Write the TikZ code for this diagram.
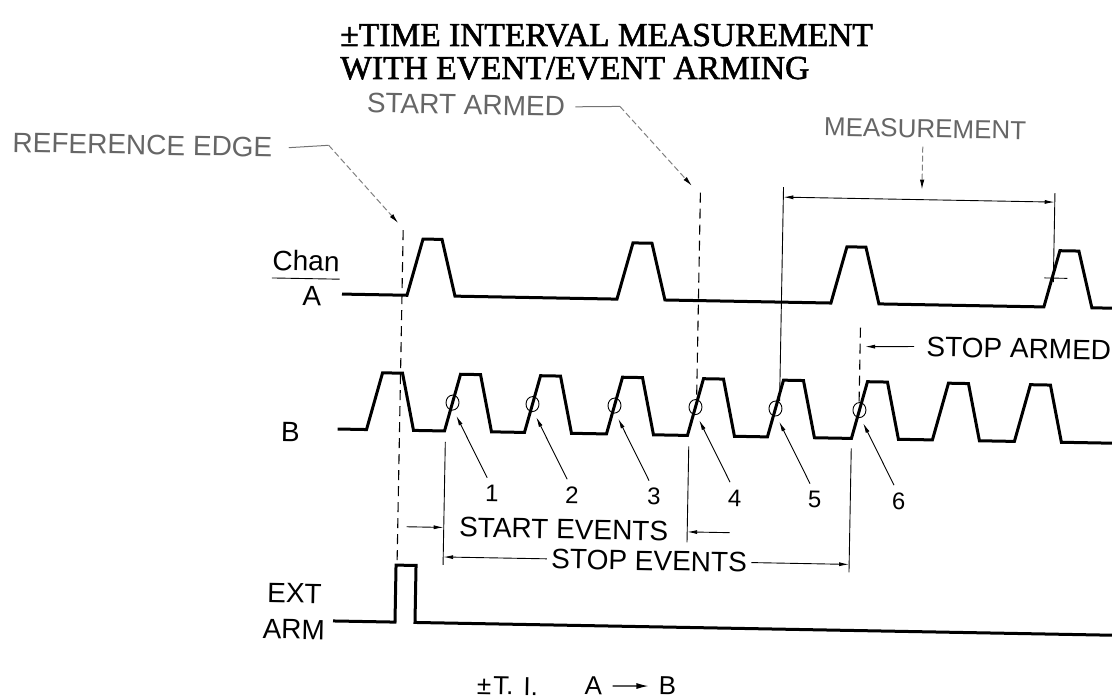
\documentclass[tikz,border=0pt]{standalone}
\usepackage{fontspec}
\setmainfont{Liberation Serif}
\newfontfamily\titlefont[FakeBold=1.8]{Liberation Serif}
\newfontfamily\lab{Liberation Sans}
\usetikzlibrary{arrows.meta,calc,shapes.geometric}
\begin{document}
\begin{tikzpicture}[x=0.5pt,y=-0.5pt,
  wave/.style={line width=1.5pt, line join=miter, line cap=butt},
  thinln/.style={line width=0.45pt},
  dashln/.style={line width=0.55pt, dash pattern=on 5pt off 3pt},
  ptr/.style={line width=0.45pt, -{Latex[length=5pt,width=2pt]}},
  faint/.style={line width=0.5pt, black!50, dash pattern=on 3pt off 1.5pt, -{Latex[length=5pt,width=2.2pt,color=black]}},
  gsolid/.style={line width=0.5pt, black!55},
  title/.style={font=\titlefont\fontsize{16.75}{20}\selectfont, inner sep=0pt},
  lbl/.style={font=\lab\fontsize{14}{18}\selectfont, inner sep=0pt},
  glbl/.style={lbl, text=black!60},
  num/.style={font=\lab\fontsize{12}{14}\selectfont, inner sep=0pt},
  circ/.style={draw, ellipse, line width=0.45pt, minimum width=6.5pt, minimum height=7.5pt, inner sep=0pt},
]
\useasboundingbox (0,0) rectangle (1112,700);
% title
\node[title, anchor=base west] (t1) at (340,46) {±TIME INTERVAL MEASUREMENT};
\node[title, anchor=base west] (t2) at (340,79) {WITH EVENT/EVENT ARMING};
\begin{scope}[rotate around={-1.05:(556,350)}, transform shape]
% reference edge
\node[glbl] (re) at (138.8,152.6) {REFERENCE EDGE};
\coordinate (reD) at (325,149.5);
\coordinate (reT) at (396,226);
\draw[gsolid] ([xshift=8pt]re.east) -- (reD);
\draw[faint] (reD) -- (reT);
\draw[dashln] (401,233) -- (401,566);

% start armed
\node[glbl] (sa) at (461.5,106.5) {START ARMED};
\coordinate (saD) at (615.5,105.3);
\coordinate (saT) at (689,183.5);
\draw[gsolid] ([xshift=5pt]sa.east) -- (saD);
\draw[faint] (saD) -- (saT);
\draw[dashln] (697.5,190) -- (697.5,400);

% measurement
\node[glbl, font=\lab\fontsize{13}{16}\selectfont] (ms) at (921,122) {MEASUREMENT};
\coordinate (msT) at (919,183);
\draw[faint] (919,140) -- (msT);
\coordinate (mL) at (780.5,193);
\coordinate (mR) at (1052,193);
\draw[thinln, {Latex[length=5pt,width=2pt]}-{Latex[length=5pt,width=2pt]}] (mL) -- (mR);
\draw[thinln] (780.5,183) -- (780.5,397);
\draw[thinln] (1052,184) -- (1052,273);
\draw[thinln] (1043,269) -- (1066,269);

% stop armed
\draw[dashln] (860,322) -- (860,400);
\node[lbl, anchor=west] (sta) at (926,340) {STOP ARMED};
\coordinate (staT) at (865,341);
\draw[ptr] ([xshift=-6pt]sta.west) -- (staT);

% channel labels
\node[lbl] (chan) at (304.5,265.5) {Chan};
\draw[thinln] ([yshift=-3.5pt]chan.south west) -- ([yshift=-3.5pt]chan.south east);
\node[lbl] (la) at (311,301) {A};
\node[lbl] (lb) at (292,437) {B};
\node[lbl, align=center] (ext) at (299,616) {EXT\\ARM};

% waveforms
\draw[wave] (341,298) \foreach \x in {406,616,830,1043}{ -- (\x,298) -- ++(15,-56.5) -- ++(19,0) -- ++(14,56.5)} -- (1125,298);
\draw[wave] (339,433) \foreach \x in {368,446,526,608,689,769,853,934,1016}{ -- (\x,433) -- ++(15,-57) -- ++(20,0) -- ++(12,57)} -- (1125,433);
\draw[wave] (338,625) -- (400,625) -- (400,568) -- (420,568) -- (420,625) -- (1125,625);

% events
\foreach \i/\x in {1/446,2/526,3/608,4/689,5/769,6/853}{
  \node[circ] (c\i) at (\x+7.5,404.5) {};
  \node[num] (n\i) at (\x+48.5,495) {\i};
  \draw[ptr] ([shift={(-5,-16)}]n\i.center) -- ([shift={(4,13)}]c\i.center);
}

% start / stop events
\draw[thinln] (447,444) -- (447,567);
\draw[thinln] (690.5,444) -- (690.5,540);
\draw[thinln] (853,443) -- (853,567);
\node[lbl] (se) at (567,529) {START EVENTS};
\coordinate (seA) at (410,529.5);
\coordinate (seB) at (447,529.5);
\coordinate (seC) at (733,529.5);
\coordinate (seD) at (690.5,529.5);
\draw[ptr] (seA) -- (seB);
\draw[ptr] (seC) -- (seD);
\node[lbl] (sv) at (653,559) {STOP EVENTS};
\draw[ptr] ([xshift=-2pt]sv.west) -- (447,559);
\draw[ptr] ([xshift=2pt]sv.east) -- (853,559);

% formula
\node[lbl, font=\lab\fontsize{13}{16}\selectfont] (ti) at (513.6,686.9) {±\hspace{1pt}T.\hspace{5pt}I.};
\node[lbl, font=\lab\fontsize{13}{16}\selectfont] (fa) at (599.7,685.3) {A};
\node[lbl, font=\lab\fontsize{13}{16}\selectfont] (fb) at (673.7,684) {B};
\draw[line width=0.6pt, -{Latex[length=6pt,width=3pt]}, shorten <=5pt, shorten >=5pt] (fa) -- (fb);
\end{scope}
\end{tikzpicture}
\end{document}
